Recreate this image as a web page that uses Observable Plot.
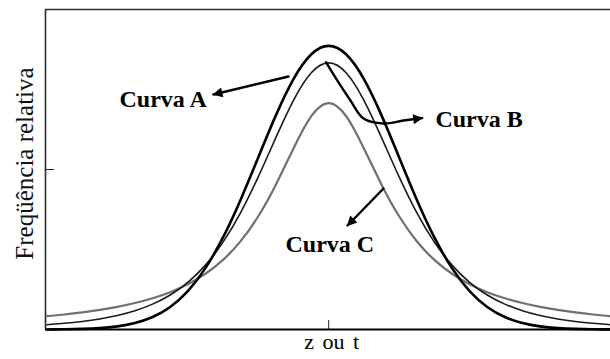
<!DOCTYPE html>
<html>
<head>
<meta charset="utf-8">
<script src="https://cdn.jsdelivr.net/npm/d3@7"></script>
<script src="https://cdn.jsdelivr.net/npm/@observablehq/plot@0.6"></script>
<style>
  html, body { margin: 0; padding: 0; background: #fff; }
  svg { display: block; }
</style>
</head>
<body>
<div id="chart"></div>
<script>
// z (or t) positions along the horizontal axis
const zValues = [-4, -3.75, -3.5, -3.25, -3, -2.75, -2.5, -2.25, -2, -1.75, -1.5, -1.25, -1, -0.75, -0.5, -0.25,
  0, 0.25, 0.5, 0.75, 1, 1.25, 1.5, 1.75, 2, 2.25, 2.5, 2.75, 3, 3.25, 3.5, 3.75, 4];

// Curva A (tallest, narrow tails)
const curvaA = [0.0001, 0.0004, 0.0009, 0.0020, 0.0044, 0.0091, 0.0175, 0.0317, 0.0540, 0.0863, 0.1295, 0.1826, 0.2420, 0.3011, 0.3521, 0.3867,
  0.3989, 0.3867, 0.3521, 0.3011, 0.2420, 0.1826, 0.1295, 0.0863, 0.0540, 0.0317, 0.0175, 0.0091, 0.0044, 0.0020, 0.0009, 0.0004, 0.0001];

// Curva B (middle)
const curvaB = [0.0067, 0.0087, 0.0113, 0.0148, 0.0197, 0.0264, 0.0357, 0.0485, 0.0663, 0.0905, 0.1229, 0.1644, 0.2147, 0.2699, 0.3223, 0.3608,
  0.3750, 0.3608, 0.3223, 0.2699, 0.2147, 0.1644, 0.1229, 0.0905, 0.0663, 0.0485, 0.0357, 0.0264, 0.0197, 0.0148, 0.0113, 0.0087, 0.0067];

// Curva C (lowest peak, heavy tails)
const curvaC = [0.0187, 0.0211, 0.0240, 0.0275, 0.0318, 0.0372, 0.0439, 0.0525, 0.0637, 0.0784, 0.0979, 0.1242, 0.1592, 0.2037, 0.2546, 0.2996,
  0.3183, 0.2996, 0.2546, 0.2037, 0.1592, 0.1242, 0.0979, 0.0784, 0.0637, 0.0525, 0.0439, 0.0372, 0.0318, 0.0275, 0.0240, 0.0211, 0.0187];

const xTicks = [0];
const yTicks = [0.225];
const xLabel = "z ou t";
const yLabel = "Freqüência relativa";

// annotation labels
const labelNames = ["Curva A", "Curva B", "Curva C"];
const labelZ = [-2.97, 1.515, -0.614];
const labelF = [0.3122, 0.2845, 0.1087];

// annotation arrows (polylines, arrowhead at last point)
const arrowId = ["A", "A", "B", "B", "B", "B", "B", "B", "B", "C", "C"];
const arrowZ = [-0.571, -1.636, -0.038, 0.121, 0.309, 0.494, 0.778, 1.062, 1.327, 0.778, 0.267];
const arrowF = [0.3558, 0.3305, 0.3759, 0.3502, 0.3220, 0.2967, 0.2897, 0.2939, 0.2974, 0.1983, 0.1463];

const rows = zValues.map((z, i) => ({z, A: curvaA[i], B: curvaB[i], C: curvaC[i]}));
const labels = labelNames.map((t, i) => ({t, z: labelZ[i], f: labelF[i]}));
const arrows = arrowId.map((id, i) => ({id, z: arrowZ[i], f: arrowF[i]}));

const xDomain = [-4.02, 4.0];
const yDomain = [0, 0.45];
const serif = "'Liberation Serif', 'Times New Roman', serif";

const plot = Plot.plot({
  width: 610,
  height: 359,
  marginTop: 9,
  marginBottom: 30,
  marginLeft: 45,
  marginRight: 0,
  x: {domain: xDomain, axis: null},
  y: {domain: yDomain, axis: null},
  style: {background: "#fff", overflow: "visible"},
  marks: [
    Plot.ruleY([yDomain[1]], {stroke: "#2a2a2a", strokeWidth: 1.6}),
    Plot.ruleX([xDomain[0]], {stroke: "#2a2a2a", strokeWidth: 1.6}),
    Plot.axisX({ticks: xTicks, tickSize: 9, dy: -9, tickFormat: () => "", label: null, stroke: "#222"}),
    Plot.axisY({ticks: yTicks, tickSize: 9, dx: 9, tickFormat: () => "", label: null, stroke: "#222"}),
    Plot.line(rows, {x: "z", y: "C", curve: "natural", stroke: "#707070", strokeWidth: 2.2}),
    Plot.line(rows, {x: "z", y: "B", curve: "natural", stroke: "#1a1a1a", strokeWidth: 1.6}),
    Plot.line(rows, {x: "z", y: "A", curve: "natural", stroke: "#000", strokeWidth: 2.6}),
    Plot.ruleY([yDomain[0]], {stroke: "#000", strokeWidth: 1.8}),
    Plot.line(arrows, {x: "z", y: "f", z: "id", curve: "catmull-rom", stroke: "#000", strokeWidth: 2.4, ariaDescription: "arrow"}),
    Plot.text(labels, {x: "z", y: "f", text: "t", textAnchor: "start", lineAnchor: "bottom",
      fontFamily: serif, fontWeight: "bold", fontSize: 24, fill: "#000"}),
    Plot.text(xTicks, {x: d => d, frameAnchor: "bottom", text: () => xLabel, dy: 19, dx: 3,
      fontFamily: serif, fontSize: 22, fill: "#000"}),
    Plot.text([yLabel], {frameAnchor: "left", text: d => d, rotate: -90, dx: -21, dy: -6,
      textAnchor: "middle", lineAnchor: "middle",
      fontFamily: serif, fontSize: 25, fill: "#111"})
  ]
});

const svg = d3.select(plot);
const defs = svg.insert("defs", ":first-child");
defs.append("marker")
  .attr("id", "arrowhead")
  .attr("viewBox", "0 0 10 10")
  .attr("refX", 9)
  .attr("refY", 5)
  .attr("markerUnits", "userSpaceOnUse")
  .attr("markerWidth", 16)
  .attr("markerHeight", 10)
  .attr("orient", "auto")
  .append("path")
  .attr("d", "M0,0L10,5L0,10Z")
  .attr("fill", "#000");
svg.selectAll('g[aria-description="arrow"] path').attr("marker-end", "url(#arrowhead)");
svg.selectAll('g[aria-label="text"] text').filter(function() { return this.textContent === xLabel; })
  .style("word-spacing", "3px");

document.getElementById("chart").appendChild(plot);
</script>
</body>
</html>
